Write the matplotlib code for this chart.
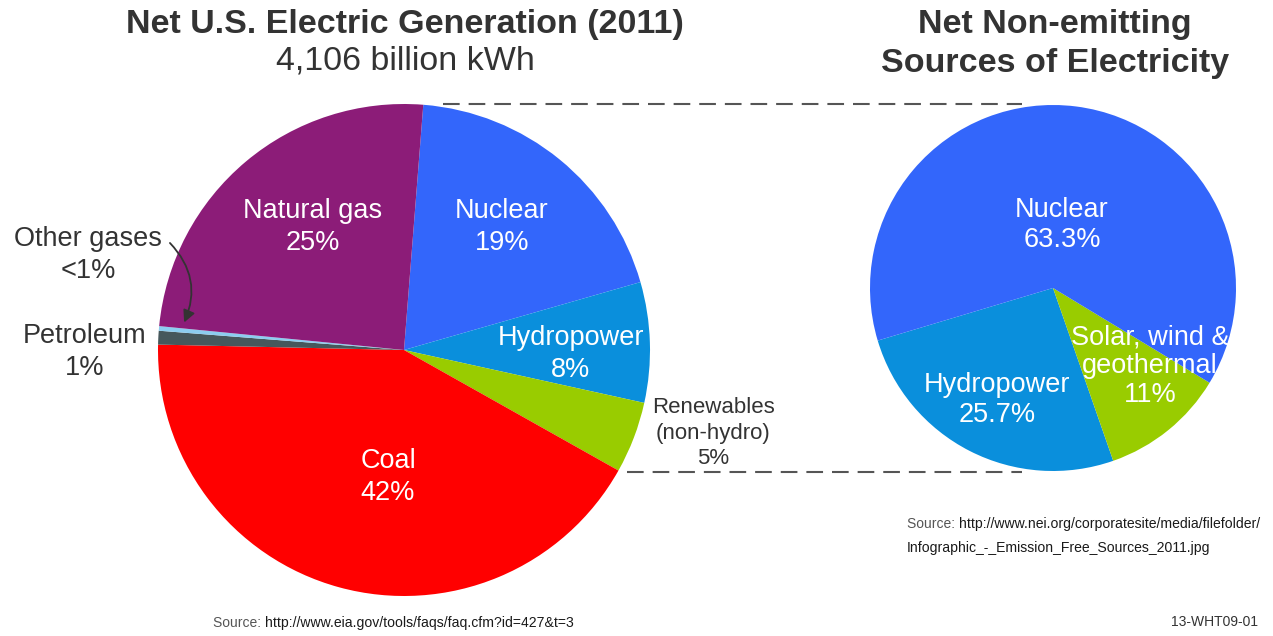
import matplotlib.pyplot as plt
from matplotlib import font_manager

# data
gen_sources = ["Nuclear", "Hydropower", "Renewables\n(non-hydro)", "Coal",
               "Petroleum", "Other gases", "Natural gas"]
gen_share = [19.3, 7.9, 4.7, 42.2, 0.9, 0.3, 24.7]
gen_text = ["19%", "8%", "5%", "42%", "1%", "<1%", "25%"]

clean_sources = ["Hydropower", "Solar, wind &\ngeothermal", "Nuclear"]
clean_share = [25.7, 11.0, 63.3]
clean_text = ["25.7%", "11%", "63.3%"]

gen_colors = ["#3366fb", "#0a8fdc", "#99cc00", "#ff0000",
              "#46585c", "#8ccdf0", "#8c1c78"]
clean_colors = ["#0a8fdc", "#99cc00", "#3366fb"]

W, H = 1273, 636
def Y(y):
    return H - y

names = [f.name for f in font_manager.fontManager.ttflist]
narrow = "Liberation Sans Narrow" if "Liberation Sans Narrow" in names else "Liberation Sans"
plt.rcParams['font.family'] = ['Liberation Sans', 'DejaVu Sans']

fig = plt.figure(figsize=(12.73, 6.36), dpi=100)
ax = fig.add_axes([0, 0, 1, 1])

# left pie
ax.pie(gen_share, colors=gen_colors, startangle=85.5, counterclock=False,
       center=(404, Y(350)), radius=246, frame=True,
       wedgeprops=dict(linewidth=0))
# right pie
ax.pie(clean_share, colors=clean_colors, startangle=196.7, counterclock=True,
       center=(1053, Y(288)), radius=183, frame=True,
       wedgeprops=dict(linewidth=0))
ax.set_xlim(0, W)
ax.set_ylim(0, H)
ax.set_aspect('equal')
ax.axis('off')

# connector lines
dash = (0, (8, 4.3))
ax.plot([443, 1022], [Y(104), Y(104)], color="#555555", lw=1.5, linestyle=dash)
ax.plot([627, 1022], [Y(472), Y(472)], color="#555555", lw=1.5, linestyle=dash)

dark = "#333333"
# titles
ax.text(405, Y(24), "Net U.S. Electric Generation (2011)", fontsize=24.5,
        fontweight='bold', color=dark, ha='center', va='center')
ax.text(405, Y(61), "4,106 billion kWh", fontsize=24.5, color=dark,
        ha='center', va='center')
ax.text(1055, Y(44), "Net Non-emitting\nSources of Electricity", fontsize=24.5,
        fontweight='bold', color=dark, ha='center', va='center', linespacing=1.37)

# labels, left pie
gen_pos = [(502, 227, 'w', 19.5), (571, 354, 'w', 19.5), (713, 433, dark, 16),
           (388, 477, 'w', 19.5), (85, 352, dark, 19.5), (88, 255, dark, 19.5),
           (313, 227, 'w', 19.5)]
for name, txt, (x, y, c, fs) in zip(gen_sources, gen_text, gen_pos):
    ax.text(x, Y(y), name + "\n" + txt, fontsize=fs, color=c,
            ha='center', va='center', linespacing=1.3 if fs < 19 else 1.28)

ax.annotate("", xy=(183, Y(325)), xytext=(168, Y(241)),
            arrowprops=dict(arrowstyle="-|>", color="#333333", lw=1.3,
                            connectionstyle="arc3,rad=-0.35", mutation_scale=18))

# labels, right pie
clean_pos = [(997, 400), (1150, 366), (1062, 225)]
for name, txt, (x, y) in zip(clean_sources, clean_text, clean_pos):
    ax.text(x, Y(y), name + "\n" + txt, fontsize=19.5, color='w',
            ha='center', va='center', linespacing=1.15 if "\n" in name else 1.24)

# sources
t = ax.text(213, Y(623), "Source: ", fontsize=10, color="#555555",
            ha='left', va='center')
fig.canvas.draw()
bb = t.get_window_extent()
ax.text(bb.x1, Y(623), "http://www.eia.gov/tools/faqs/faq.cfm?id=427&t=3",
        fontsize=10.1, color="#1a1a1a", family=narrow, ha='left', va='center')

t2 = ax.text(907, Y(524), "Source: ", fontsize=10, color="#555555",
             ha='left', va='center')
fig.canvas.draw()
bb2 = t2.get_window_extent()
ax.text(bb2.x1, Y(524), "http://www.nei.org/corporatesite/media/filefolder/",
        fontsize=10.05, color="#1a1a1a", family=narrow, ha='left', va='center')
ax.text(907, Y(548), "Infographic_-_Emission_Free_Sources_2011.jpg",
        fontsize=10.05, color="#1a1a1a", family=narrow, ha='left', va='center')

ax.text(1258, Y(622), "13-WHT09-01", fontsize=10, color="#333333",
        ha='right', va='center')

fig.savefig("out.png", dpi=100)
